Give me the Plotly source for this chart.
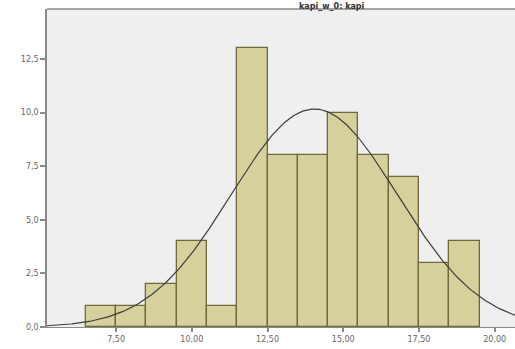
import numpy as np
import plotly.graph_objects as go

# Histogram data (bin centres, counts), bin width 1
bin_centers = [7, 8, 9, 10, 11, 12, 13, 14, 15, 16, 17, 18, 19]
counts = [1, 1, 2, 4, 1, 13, 8, 8, 10, 8, 7, 3, 4]
x_tick_vals = [7.5, 10.0, 12.5, 15.0, 17.5, 20.0]
x_tick_text = ["7,50", "10,00", "12,50", "15,00", "17,50", "20,00"]
y_tick_vals = [0, 2.5, 5.0, 7.5, 10.0, 12.5]
y_tick_text = ["0,0", "2,5", "5,0", "7,5", "10,0", "12,5"]
title_text = "kapi_w_0: kapi"

# Fitted normal curve from the histogram data
c = np.array(bin_centers, dtype=float)
n = np.array(counts, dtype=float)
N = n.sum()
mean = (c * n).sum() / N
sd = np.sqrt(((c - mean) ** 2 * n).sum() / (N - 1))
xr = [5.22, 20.67]
xs = np.linspace(xr[0], xr[1], 300)
ys = N * 1.0 / (sd * np.sqrt(2 * np.pi)) * np.exp(-((xs - mean) ** 2) / (2 * sd ** 2))

fig = go.Figure()
fig.add_trace(go.Bar(
    x=bin_centers, y=counts, width=1.0,
    marker=dict(color="#d5d09c", line=dict(color="#6e683c", width=1.3)),
    hoverinfo="skip",
))
fig.add_trace(go.Scatter(
    x=xs, y=ys, mode="lines",
    line=dict(color="#3c3c3c", width=1.2),
    hoverinfo="skip",
))

fig.update_layout(
    width=515, height=349,
    margin=dict(l=47, r=0, t=9, b=22),
    paper_bgcolor="white",
    plot_bgcolor="#efefef",
    showlegend=False,
    bargap=0,
    font=dict(family="DejaVu Sans", size=8, color="#666666"),
    annotations=[dict(
        text="<b>" + title_text + "</b>", xref="paper", yref="paper",
        x=0.61, y=1.0283, xanchor="center", yanchor="top",
        showarrow=False, font=dict(size=8, color="#333333"),
    )],
    shapes=[dict(
        type="line", xref="paper", yref="paper", x0=0, x1=1, y0=1, y1=1,
        line=dict(color="#8a8a8a", width=1.5),
    )],
)
fig.update_xaxes(
    range=xr, tickvals=x_tick_vals, ticktext=x_tick_text,
    showgrid=False, zeroline=False,
    showline=True, linecolor="#8a8a8a", linewidth=1.2,
    ticks="outside", ticklen=4, tickcolor="#8a8a8a", tickwidth=1.5,
    tickfont=dict(size=8, color="#666666"),
)
fig.update_yaxes(
    range=[0, 14.83], tickvals=y_tick_vals, ticktext=y_tick_text,
    showgrid=False, zeroline=False,
    showline=True, linecolor="#8a8a8a", linewidth=1.5,
    ticks="outside", ticklen=5, tickcolor="#8a8a8a", tickwidth=1.5,
    tickfont=dict(size=8, color="#666666"),
)

fig.write_html("out.html")
